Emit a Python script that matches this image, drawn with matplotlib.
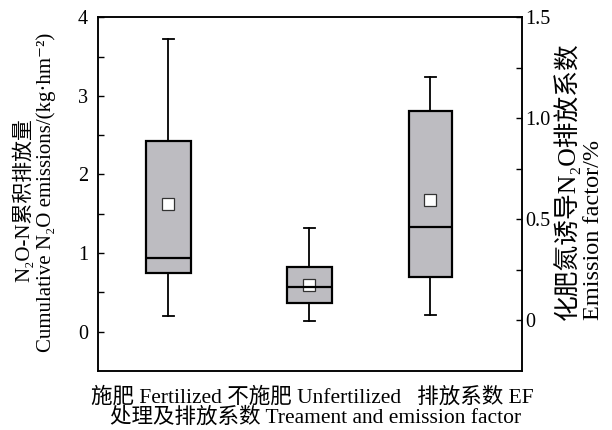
import matplotlib
matplotlib.use("Agg")
import matplotlib.pyplot as plt
from matplotlib.ticker import FixedLocator, FixedFormatter

# ---- data ---------------------------------------------------------------------------
categories = ["施肥 Fertilized", "不施肥 Unfertilized", "排放系数 EF"]
whisker_low = [0.20, 0.14, 0.025]
q1 = [0.75, 0.36, 0.216]
median = [0.94, 0.57, 0.464]
q3 = [2.43, 0.82, 1.035]
whisker_high = [3.72, 1.32, 1.203]
mean = [1.63, 0.60, 0.594]

left_ticks = [0, 1, 2, 3, 4]
right_ticks = [0, 0.5, 1.0, 1.5]
right_labels = ["0", "0.5", "1.0", "1.5"]

# ---- style ----------------------------------------------------------------------------
FONT = ["Liberation Serif", "Noto Sans CJK SC", "DejaVu Serif"]
plt.rcParams.update({
    "font.family": FONT,
    "font.size": 14.5,
    "axes.linewidth": 1.1,
    "xtick.direction": "in",
    "ytick.direction": "in",
})
BOX_FILL = "#bdbcc1"

fig = plt.figure(figsize=(6.12, 4.30), dpi=100)
ax = fig.add_axes([0.160, 0.1372, 0.693, 0.8226])
ax2 = ax.twinx()

positions = [1.0, 2.0, 2.86]
widths = [0.32, 0.32, 0.30]

stats = [
    dict(med=median[i], q1=q1[i], q3=q3[i], whislo=whisker_low[i],
         whishi=whisker_high[i], mean=mean[i], fliers=[], label=categories[i])
    for i in range(3)
]

common = dict(
    patch_artist=True, showmeans=True, shownotches=False, manage_ticks=False,
    boxprops=dict(facecolor=BOX_FILL, edgecolor="black", linewidth=1.6),
    medianprops=dict(color="black", linewidth=1.6, zorder=5),
    whiskerprops=dict(color="black", linewidth=1.3),
    capprops=dict(color="black", linewidth=1.3),
    meanprops=dict(marker="s", markerfacecolor="white", markeredgecolor="#333333",
                   markeredgewidth=0.9, markersize=8.5, zorder=4),
    capwidths=0.075,
)

# emissions on the left axis, emission factor on the right axis
ax.bxp(stats[:2], positions=positions[:2], widths=widths[:2], **common)
ax2.bxp(stats[2:], positions=positions[2:], widths=widths[2:], **common)

ax.set_xlim(0.5, 3.51)
ax.set_ylim(-0.5, 4.0)
ax2.set_ylim(-0.25, 1.5)

ax.set_xticks([])
ax.yaxis.set_major_locator(FixedLocator(left_ticks))
ax.yaxis.set_minor_locator(FixedLocator([0.5, 1.5, 2.5, 3.5]))
ax.tick_params(axis="y", which="both", length=4, width=1.0, pad=7, right=False)
ax2.yaxis.set_major_locator(FixedLocator(right_ticks))
ax2.yaxis.set_major_formatter(FixedFormatter(right_labels))
ax2.yaxis.set_minor_locator(FixedLocator([0.25, 0.75, 1.25]))
ax2.tick_params(axis="y", which="both", length=4, width=1.0, pad=2)

# ---- labels ---------------------------------------------------------------------------
ylab = dict(rotation=90, rotation_mode="anchor", va="baseline")
fig.text(0.048, 0.535, "N₂O-N累积排放量", ha="center", fontsize=15, **ylab)
fig.text(0.084, 0.553, "Cumulative N₂O emissions/(kg·hm⁻²)", ha="center",
         fontsize=15, **ylab)
fig.text(0.940, 0.256, "化肥氮诱导N₂O排放系数", ha="left", fontsize=18.5, **ylab)
fig.text(0.978, 0.256, "Emission factor/%", ha="left", fontsize=17.5, **ylab)

fig.text(0.510, 0.0628, "施肥 Fertilized 不施肥 Unfertilized   排放系数 EF",
         ha="center", va="baseline", fontsize=15.5)
fig.text(0.515, 0.0163, "处理及排放系数 Treament and emission factor",
         ha="center", va="baseline", fontsize=15.5)

fig.savefig("out.png", dpi=100)
